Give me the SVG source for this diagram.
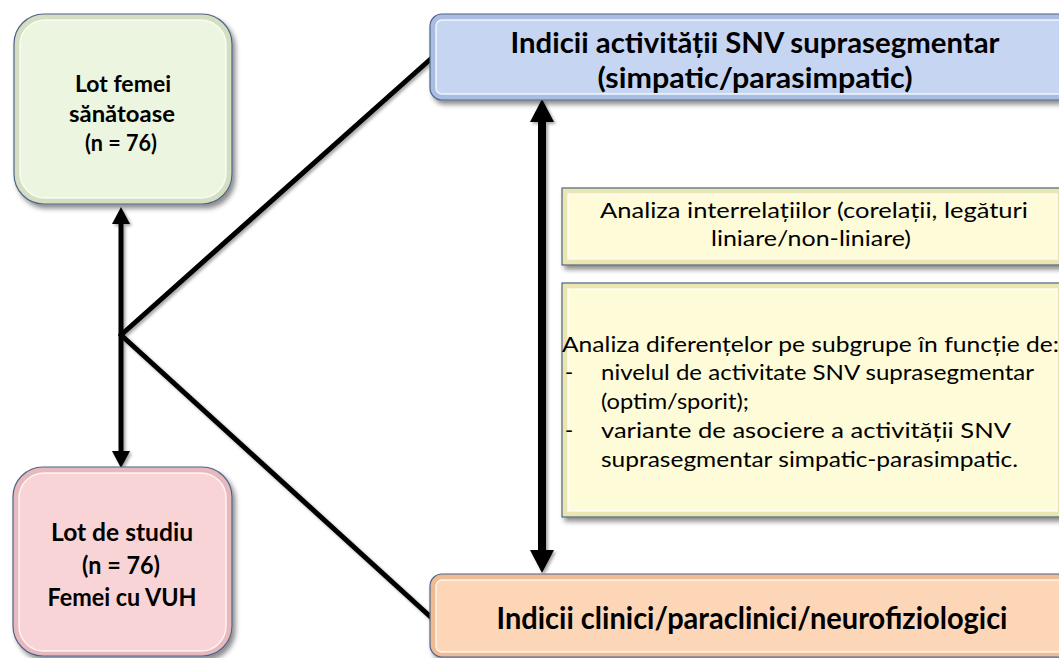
<svg xmlns="http://www.w3.org/2000/svg" width="1059" height="658" viewBox="0 0 1059 658">
<defs>
<filter id="sh" x="-10%" y="-10%" width="130%" height="130%">
<feDropShadow dx="3" dy="4" stdDeviation="2.5" flood-color="#000" flood-opacity="0.45"/>
</filter>
<filter id="lsh" x="-10%" y="-10%" width="130%" height="130%">
<feDropShadow dx="2" dy="2" stdDeviation="1.5" flood-color="#000" flood-opacity="0.35"/>
</filter>
</defs>
<style>
.b{font-family:Lato,"Liberation Sans",sans-serif;font-weight:bold;fill:#000;text-anchor:middle}
.r{font-family:Lato,"Liberation Sans",sans-serif;fill:#000}
.rim{stroke:#4f6489;stroke-width:1.2}
.hl{stroke:#ffffff;stroke-opacity:0.8;stroke-width:1.5}
.ln{stroke:#000;stroke-width:5;fill:none;stroke-linecap:round}
</style>

<g id="connectors" filter="url(#lsh)">
<line class="ln" x1="121" y1="335" x2="434" y2="56"/>
<line class="ln" x1="121" y1="335" x2="434" y2="620"/>
<line x1="121" y1="222" x2="121" y2="452" stroke="#000" stroke-width="5"/>
<polygon points="121,207 112,224 130,224" fill="#000"/>
<polygon points="121,468 112,451 130,451" fill="#000"/>
<line x1="542" y1="118" x2="542" y2="555" stroke="#000" stroke-width="8"/>
<polygon points="542,99 530,122 554,122" fill="#000"/>
<polygon points="542,573 530,550 554,550" fill="#000"/>
</g>

<g id="node-healthy">
<rect x="14" y="14" width="218" height="190" rx="30" fill="#d3dfc0" class="rim" filter="url(#sh)"/>
<rect x="20" y="20" width="206" height="178" rx="25" fill="#ecf5df" class="hl"/>
<text class="b" font-size="23" x="123" y="92" textLength="96" lengthAdjust="spacingAndGlyphs">Lot femei</text>
<text class="b" font-size="23" x="122" y="122" textLength="106" lengthAdjust="spacingAndGlyphs">sănătoase</text>
<text class="b" font-size="23" x="121" y="151" textLength="72" lengthAdjust="spacingAndGlyphs">(n = 76)</text>
</g>

<g id="node-study">
<rect x="13" y="467" width="219" height="189" rx="30" fill="#e8b9bc" class="rim" filter="url(#sh)"/>
<rect x="19" y="473" width="207" height="178" rx="25" fill="#f9d4d6" class="hl"/>
<text class="b" font-size="25" x="122" y="541" textLength="142" lengthAdjust="spacingAndGlyphs">Lot de studiu</text>
<text class="b" font-size="25" x="121" y="574" textLength="78" lengthAdjust="spacingAndGlyphs">(n = 76)</text>
<text class="b" font-size="25" x="122" y="606" textLength="149" lengthAdjust="spacingAndGlyphs">Femei cu VUH</text>
</g>

<g id="node-snv">
<rect x="430" y="14" width="660" height="86" rx="12" fill="#a9bde3" class="rim" filter="url(#sh)"/>
<rect x="436" y="20" width="640" height="74" rx="6" fill="#c6d6f2" class="hl"/>
<text class="b" font-size="29" x="755" y="53" textLength="489" lengthAdjust="spacingAndGlyphs">Indicii activității SNV suprasegmentar</text>
<text class="b" font-size="29" x="755" y="88" textLength="315" lengthAdjust="spacingAndGlyphs">(simpatic/parasimpatic)</text>
</g>

<g id="node-clinical">
<rect x="430" y="574" width="660" height="83" rx="12" fill="#efbb93" class="rim" filter="url(#sh)"/>
<rect x="436" y="580" width="640" height="72" rx="6" fill="#fcd6b7" class="hl"/>
<text class="b" font-size="30" x="752" y="629" textLength="511" lengthAdjust="spacingAndGlyphs">Indicii clinici/paraclinici/neurofiziologici</text>
</g>

<g id="node-interrelations">
<rect x="562" y="188" width="510" height="77" fill="#ebe5b0" class="rim" filter="url(#sh)"/>
<rect x="568" y="194" width="489" height="65" fill="#fefbd9" class="hl"/>
<text class="r" font-size="22" x="814" y="218" text-anchor="middle" textLength="428" lengthAdjust="spacingAndGlyphs">Analiza interrelațiilor (corelații, legături</text>
<text class="r" font-size="22" x="811" y="246" text-anchor="middle" textLength="200" lengthAdjust="spacingAndGlyphs">liniare/non-liniare)</text>
</g>

<g id="node-differences">
<rect x="562" y="283" width="510" height="234" fill="#ebe5b0" class="rim" filter="url(#sh)"/>
<rect x="568" y="289" width="489" height="222" fill="#fefbd9" class="hl"/>
<text class="r" font-size="22" x="562" y="352" textLength="497" lengthAdjust="spacingAndGlyphs">Analiza diferențelor pe subgrupe în funcție de:</text>
<text class="r" font-size="22" x="565" y="380">-</text>
<text class="r" font-size="22" x="601" y="380" textLength="433" lengthAdjust="spacingAndGlyphs">nivelul de activitate SNV suprasegmentar</text>
<text class="r" font-size="22" x="601" y="409" textLength="148" lengthAdjust="spacingAndGlyphs">(optim/sporit);</text>
<text class="r" font-size="22" x="565" y="438">-</text>
<text class="r" font-size="22" x="601" y="438" textLength="410" lengthAdjust="spacingAndGlyphs">variante de asociere a activității SNV</text>
<text class="r" font-size="22" x="601" y="467" textLength="417" lengthAdjust="spacingAndGlyphs">suprasegmentar simpatic-parasimpatic.</text>
</g>
</svg>
